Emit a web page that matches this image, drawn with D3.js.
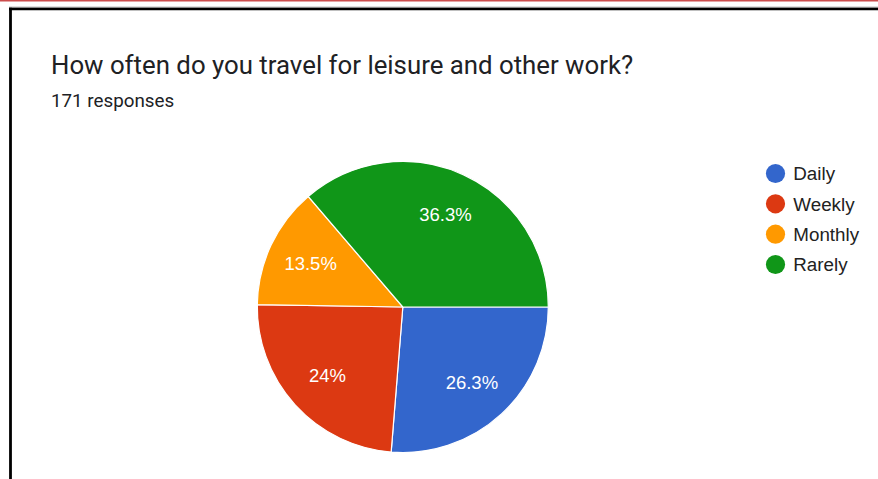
<!DOCTYPE html>
<html>
<head>
<meta charset="utf-8">
<script src="https://cdn.jsdelivr.net/npm/d3@7"></script>
<style>
  html, body { margin: 0; padding: 0; background: #fff; }
  svg { display: block; }
</style>
</head>
<body>
<svg id="chart" width="878" height="479"></svg>
<script>
// Survey answers and their shares of the 171 responses
const categories = ["Daily", "Weekly", "Monthly", "Rarely"];
const percents = [26.3, 24, 13.5, 36.3];
const colors = ["#3366cc", "#dc3912", "#ff9900", "#109618"];
const titleText = "How often do you travel for leisure and other work?";
const subtitleText = "171 responses";

const width = 878, height = 479;
const svg = d3.select("#chart");

// page chrome: thin red rule, then the black card border on top and left
svg.append("rect").attr("x", 0).attr("y", 0).attr("width", width).attr("height", 1.5)
  .attr("fill", "#cc4d4d");
svg.append("line").attr("x1", 9).attr("x2", width).attr("y1", 7.2).attr("y2", 7.2)
  .attr("stroke", "#9a9a9a").attr("stroke-width", 1);
svg.append("line").attr("x1", 9).attr("x2", width).attr("y1", 9).attr("y2", 9)
  .attr("stroke", "#000").attr("stroke-width", 2.6);
svg.append("line").attr("x1", 10.5).attr("x2", 10.5).attr("y1", 7.7).attr("y2", height)
  .attr("stroke", "#000").attr("stroke-width", 2.8);

// heading
svg.append("text").attr("x", 51).attr("y", 74)
  .attr("font-family", "Roboto, 'Noto Sans', sans-serif").attr("font-size", 25.8)
  .attr("fill", "#202124").text(titleText);
svg.append("text").attr("x", 51).attr("y", 106.7)
  .attr("font-family", "Roboto, 'Noto Sans', sans-serif").attr("font-size", 18.8)
  .attr("fill", "#202124").text(subtitleText);

// pie, starting at three o'clock and running clockwise
const cx = 402.8, cy = 307, R = 145.5;
const color = d3.scaleOrdinal().domain(categories).range(colors);
const data = categories.map((c, i) => ({ name: c, value: percents[i] }));
const pie = d3.pie().value(d => d.value).sort(null)
  .startAngle(Math.PI / 2).endAngle(Math.PI / 2 + 2 * Math.PI);
const arcs = pie(data);
const arc = d3.arc().innerRadius(0).outerRadius(R);
const labelArc = d3.arc().innerRadius(R * 0.7).outerRadius(R * 0.7);

const g = svg.append("g").attr("transform", `translate(${cx},${cy})`);
g.selectAll("path.slice").data(arcs).join("path")
  .attr("class", "slice")
  .attr("d", arc)
  .attr("fill", d => color(d.data.name))
  .attr("stroke", "#fff").attr("stroke-width", 1.2);

g.selectAll("text.pct").data(arcs).join("text")
  .attr("class", "pct")
  .attr("transform", d => `translate(${labelArc.centroid(d)})`)
  .attr("text-anchor", "middle").attr("dy", "0.36em")
  .attr("font-family", "Arial, 'Liberation Sans', sans-serif").attr("font-size", 18.5)
  .attr("fill", "#fff")
  .text(d => d.data.value + "%");

// legend
const legend = svg.append("g").attr("transform", "translate(775.5,173.5)");
const y = d3.scalePoint().domain(categories).range([0, 91]);
const items = legend.selectAll("g").data(categories).join("g")
  .attr("transform", d => `translate(0,${y(d)})`);
items.append("circle").attr("r", 9.6).attr("fill", d => color(d));
items.append("text").attr("x", 17.8).attr("dy", "0.36em")
  .attr("font-family", "Arial, 'Liberation Sans', sans-serif").attr("font-size", 18.8)
  .attr("fill", "#222").text(d => d);
</script>
</body>
</html>
